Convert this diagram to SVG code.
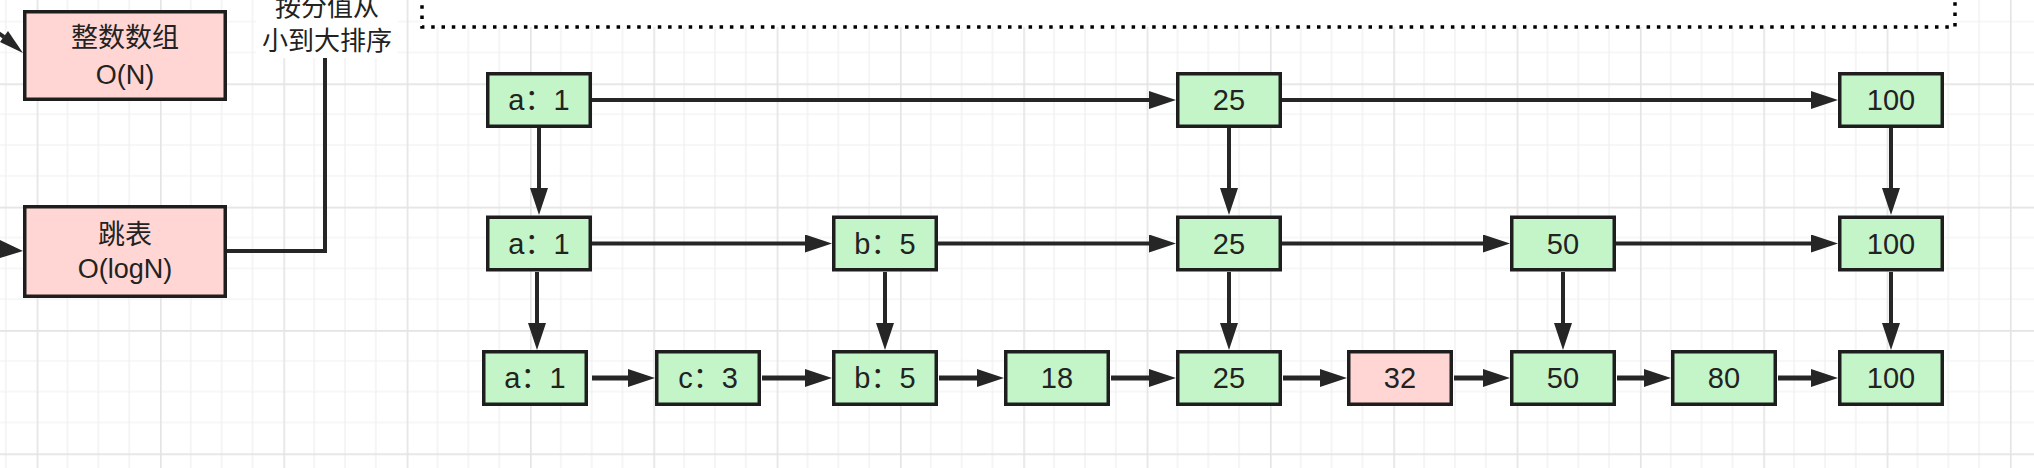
<svg xmlns="http://www.w3.org/2000/svg" width="2034" height="468" viewBox="0 0 2034 468">
<style>
.node rect{stroke:#1e1e1e;stroke-width:3.5}
.g rect{fill:#c4f5c9}
.p rect{fill:#ffd6d4}
.node text{font-family:"Liberation Sans","Noto Sans CJK SC",sans-serif;font-size:29px;fill:#222;text-anchor:middle}
.big text{font-family:"Liberation Sans","Noto Sans CJK SC",sans-serif;font-size:27px;fill:#222;text-anchor:middle}
.lbl{font-family:"Noto Sans CJK SC",sans-serif;font-size:26px;fill:#222;text-anchor:middle}
.e{stroke:#262626;stroke-width:4;fill:none}
.e3{stroke:#262626;stroke-width:5;fill:none}
</style>
<defs>
<pattern id="grid" patternUnits="userSpaceOnUse" x="36.67" y="83.33" width="123.33" height="123.33">
<path d="M30.83,0V123.33M61.67,0V123.33M92.5,0V123.33M0,30.83H123.33M0,61.67H123.33M0,92.5H123.33" stroke="#efefef" stroke-width="1.2" fill="none"/>
<path d="M0.75,0V123.33M0,0.75H123.33" stroke="#e4e4e4" stroke-width="1.8" fill="none"/>
</pattern>
<marker id="arr" markerUnits="userSpaceOnUse" markerWidth="28" markerHeight="18" refX="0" refY="9" orient="auto" viewBox="0 0 28 18">
<path d="M0,0 L27,9 L0,18 z" fill="#262626"/>
</marker>
</defs>
<rect x="0" y="0" width="2034" height="468" fill="#ffffff"/>
<rect x="0" y="0" width="2034" height="468" fill="url(#grid)"/>

<!-- dotted container -->
<rect x="422" y="-20" width="1533" height="47" fill="#ffffff" stroke="#000" stroke-width="3.5" stroke-dasharray="3.5 6.8"/>

<!-- label -->
<g id="label">
<rect x="256" y="0" width="142" height="58" fill="#ffffff"/>
<text class="lbl" x="327" y="16">按分值从</text>
<text class="lbl" x="327" y="50">小到大排序</text>
</g>

<g id="connectors">
<!-- partial incoming arrows at left -->
<line class="e" x1="-20" y1="20" x2="4" y2="37"/>
<polygon points="23,53 8,31 0,42" fill="#262626"/>
<line class="e" x1="-20" y1="246" x2="2" y2="249"/>
<polygon points="23,251 0,240 0,258" fill="#262626"/>
<!-- skip list to label -->
<polyline class="e" points="227,251 325,251 325,58"/>
<!-- row 1 -->
<line class="e" x1="592" y1="100" x2="1149" y2="100" marker-end="url(#arr)"/>
<line class="e" x1="1282" y1="100" x2="1811" y2="100" marker-end="url(#arr)"/>
<!-- row1 to row2 -->
<line class="e" x1="539" y1="128" x2="539" y2="188" marker-end="url(#arr)"/>
<line class="e" x1="1229" y1="128" x2="1229" y2="188" marker-end="url(#arr)"/>
<line class="e" x1="1891" y1="128" x2="1891" y2="188" marker-end="url(#arr)"/>
<!-- row 2 -->
<line class="e" x1="592" y1="243.5" x2="805" y2="243.5" marker-end="url(#arr)"/>
<line class="e" x1="938" y1="243.5" x2="1149" y2="243.5" marker-end="url(#arr)"/>
<line class="e" x1="1282" y1="243.5" x2="1483" y2="243.5" marker-end="url(#arr)"/>
<line class="e" x1="1616" y1="243.5" x2="1811" y2="243.5" marker-end="url(#arr)"/>
<!-- row2 to row3 -->
<line class="e" x1="537" y1="272" x2="537" y2="323" marker-end="url(#arr)"/>
<line class="e" x1="885" y1="272" x2="885" y2="323" marker-end="url(#arr)"/>
<line class="e" x1="1229" y1="272" x2="1229" y2="323" marker-end="url(#arr)"/>
<line class="e" x1="1563" y1="272" x2="1563" y2="323" marker-end="url(#arr)"/>
<line class="e" x1="1891" y1="272" x2="1891" y2="323" marker-end="url(#arr)"/>
<!-- row 3 -->
<line class="e3" x1="592" y1="378" x2="628" y2="378" marker-end="url(#arr)"/>
<line class="e3" x1="762" y1="378" x2="805" y2="378" marker-end="url(#arr)"/>
<line class="e3" x1="939" y1="378" x2="977" y2="378" marker-end="url(#arr)"/>
<line class="e3" x1="1111" y1="378" x2="1149" y2="378" marker-end="url(#arr)"/>
<line class="e3" x1="1283" y1="378" x2="1320" y2="378" marker-end="url(#arr)"/>
<line class="e3" x1="1454" y1="378" x2="1483" y2="378" marker-end="url(#arr)"/>
<line class="e3" x1="1617" y1="378" x2="1644" y2="378" marker-end="url(#arr)"/>
<line class="e3" x1="1778" y1="378" x2="1811" y2="378" marker-end="url(#arr)"/>
</g>

<!-- left boxes -->
<g id="array" class="node p big">
<rect x="24.75" y="11.75" width="200.5" height="87.5"/>
<text x="125" y="47">整数数组</text>
<text x="125" y="84">O(N)</text>
</g>
<g id="skiplist" class="node p big">
<rect x="24.75" y="206.75" width="200.5" height="89.5"/>
<text x="125" y="244">跳表</text>
<text x="125" y="278">O(logN)</text>
</g>

<!-- row 1 -->
<g id="r1-a1" class="node g"><rect x="487.75" y="73.75" width="102.5" height="52.5"/><text x="539" y="110">a：1</text></g>
<g id="r1-25" class="node g"><rect x="1177.75" y="73.75" width="102.5" height="52.5"/><text x="1229" y="110">25</text></g>
<g id="r1-100" class="node g"><rect x="1839.75" y="73.75" width="102.5" height="52.5"/><text x="1891" y="110">100</text></g>

<!-- row 2 -->
<g id="r2-a1" class="node g"><rect x="487.75" y="217.25" width="102.5" height="52.5"/><text x="539" y="253.5">a：1</text></g>
<g id="r2-b5" class="node g"><rect x="833.75" y="217.25" width="102.5" height="52.5"/><text x="885" y="253.5">b：5</text></g>
<g id="r2-25" class="node g"><rect x="1177.75" y="217.25" width="102.5" height="52.5"/><text x="1229" y="253.5">25</text></g>
<g id="r2-50" class="node g"><rect x="1511.75" y="217.25" width="102.5" height="52.5"/><text x="1563" y="253.5">50</text></g>
<g id="r2-100" class="node g"><rect x="1839.75" y="217.25" width="102.5" height="52.5"/><text x="1891" y="253.5">100</text></g>

<!-- row 3 -->
<g id="r3-a1" class="node g"><rect x="483.75" y="351.75" width="102.5" height="52.5"/><text x="535" y="388">a：1</text></g>
<g id="r3-c3" class="node g"><rect x="656.75" y="351.75" width="102.5" height="52.5"/><text x="708" y="388">c：3</text></g>
<g id="r3-b5" class="node g"><rect x="833.75" y="351.75" width="102.5" height="52.5"/><text x="885" y="388">b：5</text></g>
<g id="r3-18" class="node g"><rect x="1005.75" y="351.75" width="102.5" height="52.5"/><text x="1057" y="388">18</text></g>
<g id="r3-25" class="node g"><rect x="1177.75" y="351.75" width="102.5" height="52.5"/><text x="1229" y="388">25</text></g>
<g id="r3-32" class="node p"><rect x="1348.75" y="351.75" width="102.5" height="52.5"/><text x="1400" y="388">32</text></g>
<g id="r3-50" class="node g"><rect x="1511.75" y="351.75" width="102.5" height="52.5"/><text x="1563" y="388">50</text></g>
<g id="r3-80" class="node g"><rect x="1672.75" y="351.75" width="102.5" height="52.5"/><text x="1724" y="388">80</text></g>
<g id="r3-100" class="node g"><rect x="1839.75" y="351.75" width="102.5" height="52.5"/><text x="1891" y="388">100</text></g>
</svg>
